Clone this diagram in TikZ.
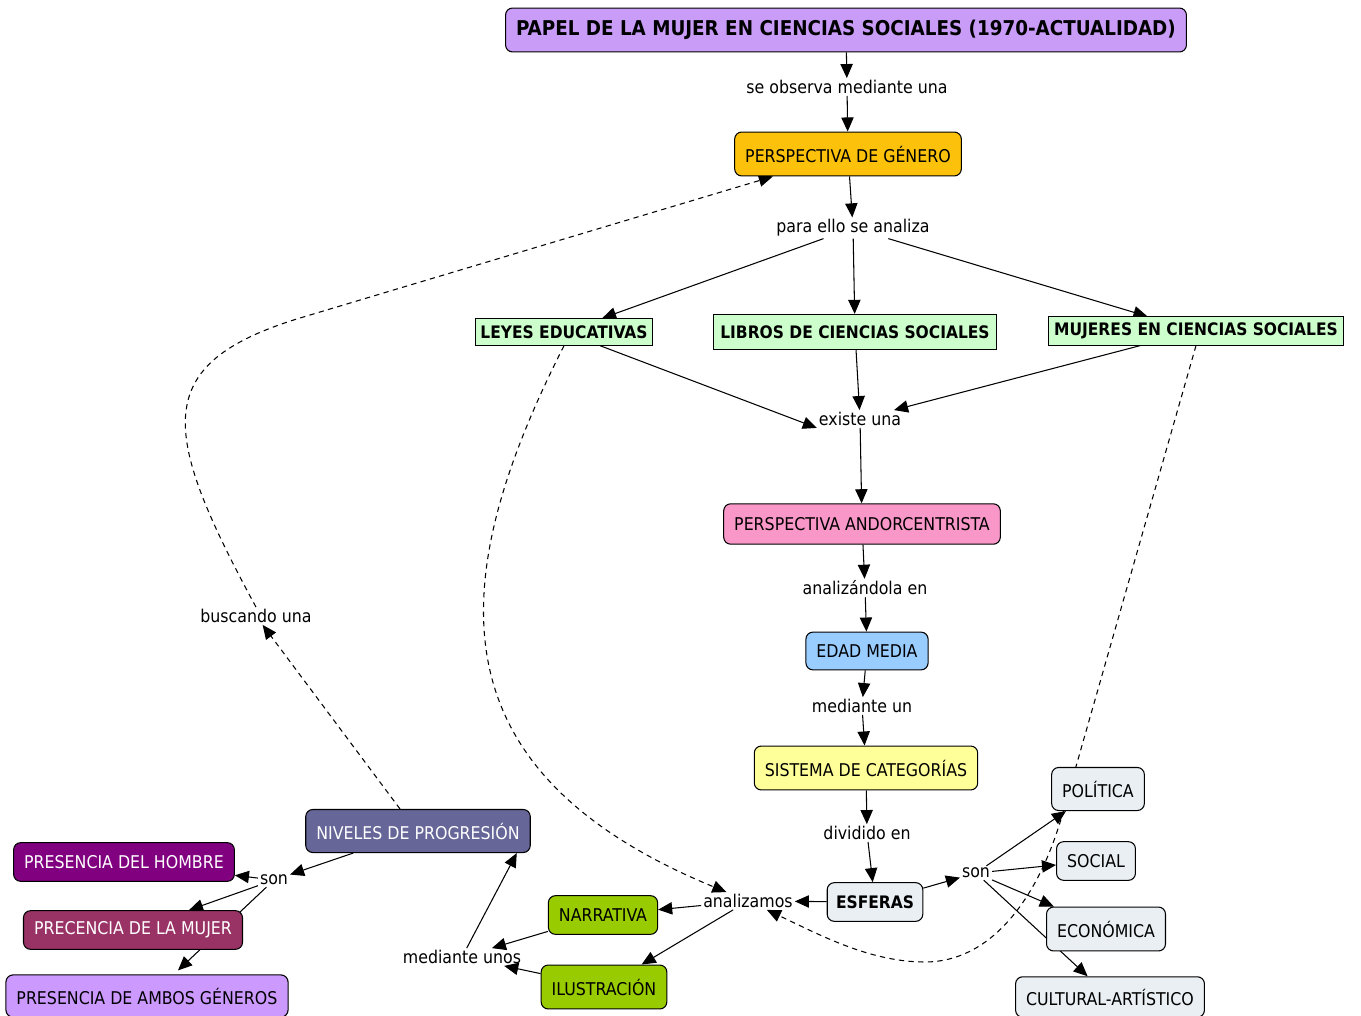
\documentclass[tikz,border=0pt]{standalone}
\usepackage{fontspec}
\usetikzlibrary{arrows.meta,backgrounds,calc}
\newfontfamily\cmfamily[BoldFont={DejaVu Sans Condensed Bold}]{DejaVu Sans Condensed}
\newcommand{\cmfont}{\cmfamily\fontsize{10}{12}\selectfont}
\newcommand{\cmbold}{\cmfamily\bfseries\fontsize{9.8}{12}\selectfont}
\definecolor{titlefill}{HTML}{C99CF7}
\definecolor{genfill}{HTML}{FCC10A}
\definecolor{greenfill}{HTML}{CCFFCC}
\definecolor{pinkfill}{HTML}{F997C8}
\definecolor{bluefill}{HTML}{99CCFF}
\definecolor{yellowfill}{HTML}{FFFF99}
\definecolor{greyfill}{HTML}{E9EFF3}
\definecolor{limefill}{HTML}{99CC00}
\definecolor{slatefill}{HTML}{666699}
\definecolor{plumfill}{HTML}{800080}
\definecolor{winefill}{HTML}{993366}
\definecolor{lilacfill}{HTML}{CC99FF}
\tikzset{
  concept/.style={draw=black, line width=0.6pt, rounded corners=4pt, font=\cmfont, inner xsep=6pt, minimum height=23pt},
  catbox/.style={draw=black, line width=0.6pt, fill=greenfill, font=\cmbold, inner xsep=3pt},
  linkphrase/.style={font=\cmfont, inner sep=1pt},
  link/.style={-{Triangle[length=8pt,width=7pt]}, line width=0.6pt},
  crosslink/.style={link, dashed, dash pattern=on 3pt off 2.5pt},
}
\begin{document}
\begin{tikzpicture}[x=0.02cm, y=-0.02cm]
\useasboundingbox (0,0) rectangle (1361,1016);
% concepts
\node[concept, fill=titlefill, font=\cmfamily\bfseries\fontsize{11.6}{14}\selectfont, minimum height=25pt] (title) at (846,30) {PAPEL DE LA MUJER EN CIENCIAS SOCIALES (1970-ACTUALIDAD)};
\node[concept, fill=genfill, minimum height=25pt] (pgen) at (848,154) {PERSPECTIVA DE GÉNERO};
\node[catbox, minimum height=15pt] (leyes) at (564,332) {LEYES EDUCATIVAS};
\node[catbox, minimum height=20pt, inner xsep=4pt] (libros) at (855,332) {LIBROS DE CIENCIAS SOCIALES};
\node[catbox, minimum height=16pt] (mujeres) at (1196,331) {MUJERES EN CIENCIAS SOCIALES};
\node[concept, fill=pinkfill] (pandro) at (862,524) {PERSPECTIVA ANDORCENTRISTA};
\node[concept, fill=bluefill, minimum height=21.5pt] (edad) at (867,651) {EDAD MEDIA};
\node[concept, fill=yellowfill, minimum height=25pt] (sistema) at (866,768) {SISTEMA DE CATEGORÍAS};
\node[concept, fill=greyfill, font=\cmbold, minimum height=22pt, inner xsep=5pt] (esferas) at (875,902) {ESFERAS};
\node[concept, fill=greyfill, minimum height=24.5pt] (politica) at (1098,789) {POLÍTICA};
\node[concept, fill=greyfill, minimum height=22pt] (social) at (1096,861) {SOCIAL};
\node[concept, fill=greyfill, minimum height=25pt] (economica) at (1106,929) {ECONÓMICA};
\node[concept, fill=greyfill] (cultural) at (1110,997) {CULTURAL-ARTÍSTICO};
\node[concept, fill=limefill, minimum height=22pt] (narrativa) at (603,915) {NARRATIVA};
\node[concept, fill=limefill, minimum height=25pt] (ilustracion) at (604,987) {ILUSTRACIÓN};
\node[concept, fill=slatefill, text=white, minimum height=24.5pt] (niveles) at (418,831) {NIVELES DE PROGRESIÓN};
\node[concept, fill=plumfill, text=white, minimum height=22pt] (hombre) at (124,862) {PRESENCIA DEL HOMBRE};
\node[concept, fill=winefill, text=white, minimum height=22pt] (mujer) at (133,930) {PRECENCIA DE LA MUJER};
\node[concept, fill=lilacfill, minimum height=24pt] (ambos) at (147,996) {PRESENCIA DE AMBOS GÉNEROS};
% linking phrases
\node[linkphrase] (lobserva) at (847,87) {se observa mediante una};
\node[linkphrase] (lanaliza) at (853,228) {para ello se analiza};
\node[linkphrase] (lexiste) at (860,419) {existe una};
\node[linkphrase] (lanalizandola) at (865,588) {analizándola en};
\node[linkphrase] (lmediante) at (862,706) {mediante un};
\node[linkphrase] (ldividido) at (867,833) {dividido en};
\node[linkphrase] (lson) at (976,873) {son};
\node[linkphrase] (lanalizamos) at (748,901) {analizamos};
\node[linkphrase] (lunos) at (462,957) {mediante unos};
\node[linkphrase] (lson2) at (274,880) {son};
\node[linkphrase] (lbuscando) at (256,616) {buscando una};
\begin{scope}[on background layer]
% main chain
\draw[link] (title) -- (lobserva);
\draw[link] (lobserva) -- (pgen);
\draw[link] (pgen) -- (lanaliza);
\draw[link] (lanaliza) -- (leyes);
\draw[link] (lanaliza) -- (libros);
\draw[link] (lanaliza) -- (mujeres);
\draw[link] (leyes) -- (lexiste.south west);
\draw[link] (libros) -- (lexiste);
\draw[link] (mujeres) -- (lexiste);
\draw[link] (lexiste) -- (pandro);
\draw[link] (pandro) -- (lanalizandola);
\draw[link] (lanalizandola) -- (edad);
\draw[link] (edad) -- (lmediante);
\draw[link] (lmediante) -- (sistema);
\draw[link] (sistema) -- (ldividido);
\draw[link] (ldividido) -- (esferas);
% spheres
\draw[link] (esferas) -- (lson);
\draw[link] (lson) -- (politica);
\draw[link] (lson) -- (social);
\draw[link] (lson) -- (economica);
\draw[link] (lson) -- (cultural);
\draw[link] (esferas) -- (lanalizamos);
\draw[link] (lanalizamos) -- (narrativa);
\draw[link] (lanalizamos) -- (ilustracion);
\draw[link] (narrativa) -- (lunos);
\draw[link] (ilustracion) -- (lunos);
\draw[link] (lunos) -- ($(niveles.south east)+(-14,0)$);
% levels
\draw[link] (niveles) -- (lson2);
\draw[link] (lson2) -- (hombre);
\draw[link] (lson2) -- (mujer);
\draw[link] (lson2) -- ($(ambos.north)+(31,-4)$);
% cross links
\draw[crosslink] (niveles.north) ++(-18,0) -- (lbuscando);
\draw[crosslink] (lbuscando.north) .. controls (160,430) and (150,364) .. (300,318) -- (pgen);
\draw[crosslink] (leyes.south) .. controls (445,580) and (430,770) .. (lanalizamos);
\draw[crosslink] (mujeres.south) -- (1065,805) .. controls (1040,900) and (990,962) .. (925,962) .. controls (870,962) and (820,935) .. (lanalizamos);
\end{scope}
\end{tikzpicture}
\end{document}
